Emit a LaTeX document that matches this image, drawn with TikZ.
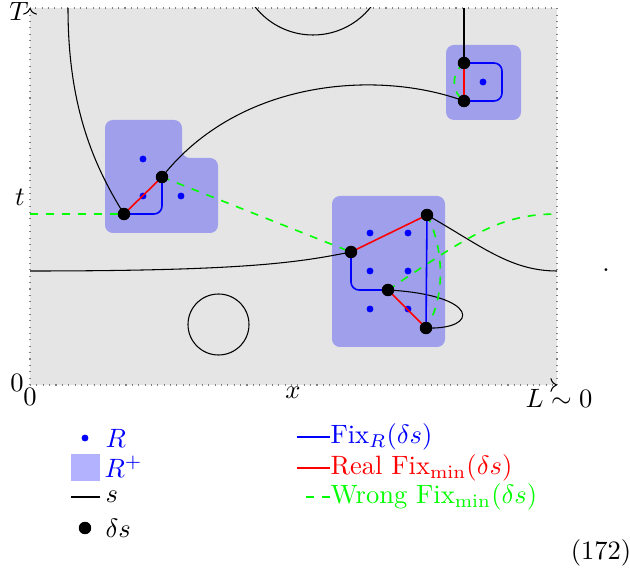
\documentclass[tikz,border=0pt]{standalone}
\usetikzlibrary{arrows.meta}
\tikzset{
  rdot/.style={circle, fill=blue, inner sep=0pt, minimum size=2.6pt},
  dsdot/.style={circle, fill=black, inner sep=0pt, minimum size=4.7pt},
  rplus/.style={fill=blue, opacity=0.3, rounded corners=3pt},
  sline/.style={black, thin},
  fixr/.style={blue, semithick, rounded corners=3pt},
  realfix/.style={red, semithick},
  wrongfix/.style={green, semithick, dashed},
  key/.style={anchor=west, inner sep=0pt},
}
\begin{document}
\begin{tikzpicture}[x=0.377pt, y=-0.377pt]
  \useasboundingbox (0,0) rectangle (630,573);
  \fill[gray!20] (30,8) rectangle (557,385);
  \draw[gray, dotted] (557,385) -- (557,8) -- (30,8);
  \draw[gray, dotted, -{To[black]}] (30,385) -- (30,8);
  \draw[gray, dotted, -{To[black]}] (30,385) -- (557,385);

  \coordinate (a) at (124,214);
  \coordinate (b) at (162,177);
  \coordinate (c) at (351,252);
  \coordinate (d) at (427,215);
  \coordinate (e) at (388,290);
  \coordinate (f) at (426,328);
  \coordinate (g) at (464,63);
  \coordinate (h) at (464,101);
  \coordinate (top1) at (68,8);
  \coordinate (top2) at (464,8);
  \coordinate (lefts) at (30,271);
  \coordinate (rights) at (557,271);
  \coordinate (leftw) at (30,214);
  \coordinate (rightw) at (557,214);

  \fill[rplus] (105,120) -- (182,120) -- (182,158) -- (218,158) -- (218,233) -- (105,233) -- cycle;
  \fill[rplus] (332,196) rectangle (445,347);
  \fill[rplus] (446,45) rectangle (521,120);

  \foreach \x/\y [count=\i] in {143/159, 143/196, 181/196, 483/82, 370/233, 408/233, 370/271, 408/271, 370/309, 408/309}
    \node[rdot] (r\i) at (\x,\y) {};

  \draw[sline] (top1) .. controls (68,100) and (90,160) .. (a);
  \draw[sline] (b) .. controls (240,78) and (380,70) .. (h);
  \draw[sline] (top2) -- (g);
  \draw[sline] (lefts) .. controls (250,271) and (300,262) .. (c);
  \draw[sline] (d) .. controls (480,245) and (510,271) .. (rights);
  \draw[sline] (e) .. controls (480,295) and (480,330) .. (f);
  \draw[sline] (218.5,324.5) circle[radius=30.5];
  \begin{scope}
    \clip (30,8) rectangle (557,385);
    \draw[sline] (313,-38.7) circle[radius=73.7];
  \end{scope}

  \draw[fixr] (a) -- (162,214) -- (b);
  \draw[fixr] (c) -- (351,290) -- (e);
  \draw[fixr] (d) -- (f);
  \draw[fixr] (g) -- (502,63) -- (502,101) -- (h);

  \foreach \p/\q in {a/b, c/d, e/f, g/h}
    \draw[realfix] (\p) -- (\q);

  \draw[wrongfix] (leftw) -- (a);
  \draw[wrongfix] (b) -- (c);
  \draw[wrongfix] (d) .. controls (445,250) and (445,300) .. (f);
  \draw[wrongfix] (e) .. controls (470,235) and (500,214) .. (rightw);
  \draw[wrongfix] (g) .. controls (450,75) and (452,92) .. (h);

  \foreach \c in {a,...,h}
    \node[dsdot] (ds\c) at (\c) {};

  \node (lT) at (19,11) {$T$};
  \node (lzy) at (17,383) {$0$};
  \node (lzx) at (30,397) {$0$};
  \node (lx) at (293,393) {$x$};
  \node (lL) at (559,398) {$L\sim 0$};
  \node (lt) at (20,197) {$t$};
  \node (stop) at (606,270) {.};
  \node (eqno) at (601,553) {(172)};

  \node[rdot] (kr) at (85,438) {};
  \node[key, text=blue] (krt) at (105,438) {$R$};
  \node[fill=blue!30, inner sep=0pt, minimum width=10.9pt, minimum height=10.2pt] (krp) at (85.5,467.5) {};
  \node[key, text=blue] (krpt) at (104,467) {$R^+$};
  \node[key] (kst) at (105,497) {$s$};
  \draw[sline] ([xshift=-1.8pt]kst.west) -- ++(-29,0);
  \node[dsdot] (kds) at (85,528) {};
  \node[key] (kdst) at (105,528) {$\delta s$};

  \node[key, text=blue] (kfix) at (330,437) {Fix$_R(\delta s)$};
  \draw[blue, semithick] (kfix.west) -- ++(-33,0);
  \node[key, text=red] (kreal) at (330,468) {Real Fix$_{\min}(\delta s)$};
  \draw[realfix] (kreal.west) -- ++(-33,0);
  \node[key, text=green] (kwrong) at (330,497) {Wrong Fix$_{\min}(\delta s)$};
  \draw[wrongfix] (kwrong.west) -- ++(-28,0);
\end{tikzpicture}
\end{document}
